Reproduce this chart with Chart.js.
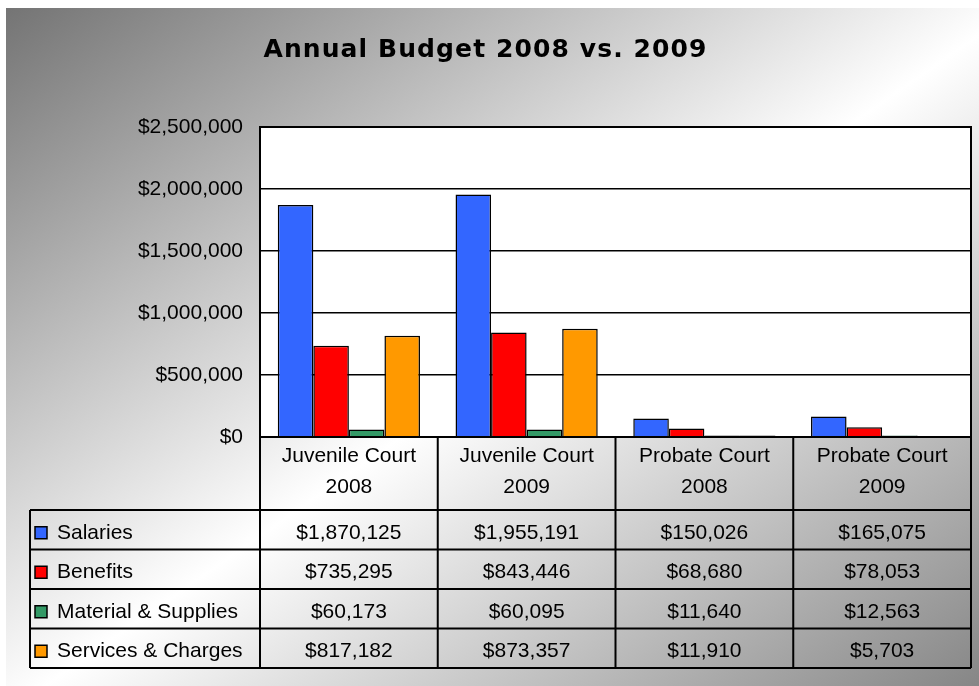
<!DOCTYPE html>
<html>
<head>
<meta charset="utf-8">
<title>Annual Budget 2008 vs. 2009</title>
<script src="https://cdn.jsdelivr.net/npm/chart.js@4.4.1/dist/chart.umd.min.js"></script>
<style>
  html, body { margin: 0; padding: 0; background: #fff; }
  #wrap { position: relative; width: 979px; height: 686px; }
  #bg {
    position: absolute; left: 6px; top: 8px; right: 0; bottom: 0;
    background: linear-gradient(to bottom right, #747474 0%, #ffffff 52%, #868686 100%);
  }
  #budgetChart { position: absolute; left: 0; top: 0; }
</style>
</head>
<body>
<div id="wrap">
  <div id="bg"></div>
  <canvas id="budgetChart" width="979" height="686"></canvas>
</div>
<script>
// chart data
const categories = [
  ['Juvenile Court', '2008'],
  ['Juvenile Court', '2009'],
  ['Probate Court', '2008'],
  ['Probate Court', '2009']
];
const seriesNames = ['Salaries', 'Benefits', 'Material & Supplies', 'Services & Charges'];
const salaries = [1870125, 1955191, 150026, 165075];
const benefits = [735295, 843446, 68680, 78053];
const materials = [60173, 60095, 11640, 12563];
const services = [817182, 873357, 11910, 5703];
const seriesColors = ['#3366FF', '#FF0000', '#339966', '#FF9900'];
const yTicks = [0, 500000, 1000000, 1500000, 2000000, 2500000];

const FONT = '"Liberation Sans", Arial, sans-serif';
const TABLE_LEFT = 30;     // left edge of the legend column
const HEADER_BOTTOM = 510; // bottom of the category header row
const ROW_H = 39.5;

const money = v => '$' + Number(v).toLocaleString('en-US');

// white plot area + letter spacing for the title only
const plotBackground = {
  id: 'plotBackground',
  beforeDraw(chart) {
    const { ctx, chartArea: a } = chart;
    ctx.save();
    ctx.fillStyle = '#fff';
    ctx.fillRect(a.left, a.top, a.right - a.left, a.bottom - a.top);
    ctx.restore();
    ctx.letterSpacing = '1.1px';
  },
  beforeDatasetsDraw(chart) {
    chart.ctx.letterSpacing = '0px';
  }
};

// data table under the x axis (header cells come from the x tick labels)
const dataTable = {
  id: 'dataTable',
  afterDraw(chart) {
    const { ctx, chartArea: a } = chart;
    const x = chart.scales.x;
    const rows = chart.data.datasets;
    const half = (x.getPixelForValue(1) - x.getPixelForValue(0)) / 2;
    const edges = [a.left];
    categories.forEach((c, i) => edges.push(x.getPixelForValue(i) + half));
    const bottom = HEADER_BOTTOM + ROW_H * rows.length;

    ctx.save();
    ctx.strokeStyle = '#000';
    ctx.lineWidth = 2;
    ctx.strokeRect(a.left, a.top, a.right - a.left, a.bottom - a.top);

    ctx.beginPath();
    for (let r = 0; r <= rows.length; r++) {
      const y = HEADER_BOTTOM + r * ROW_H;
      ctx.moveTo(TABLE_LEFT, y);
      ctx.lineTo(a.right, y);
    }
    ctx.moveTo(TABLE_LEFT, HEADER_BOTTOM);
    ctx.lineTo(TABLE_LEFT, bottom);
    edges.forEach(ex => {
      ctx.moveTo(ex, a.bottom);
      ctx.lineTo(ex, bottom);
    });
    ctx.stroke();

    ctx.font = '21px ' + FONT;
    ctx.textBaseline = 'middle';
    rows.forEach((ds, r) => {
      const cy = HEADER_BOTTOM + r * ROW_H + ROW_H / 2 + 3;
      ctx.fillStyle = ds.backgroundColor;
      ctx.fillRect(TABLE_LEFT + 5, cy - 6, 12, 12);
      ctx.lineWidth = 1.5;
      ctx.strokeRect(TABLE_LEFT + 5, cy - 6, 12, 12);

      ctx.fillStyle = '#000';
      ctx.textAlign = 'left';
      ctx.fillText(ds.label, TABLE_LEFT + 27, cy);
      ctx.textAlign = 'center';
      ds.data.forEach((v, i) => ctx.fillText(money(v), x.getPixelForValue(i), cy));
    });
    ctx.restore();
  }
};

const seriesValues = [salaries, benefits, materials, services];

new Chart(document.getElementById('budgetChart').getContext('2d'), {
  type: 'bar',
  data: {
    labels: categories,
    datasets: seriesNames.map((name, i) => ({
      label: name,
      data: seriesValues[i],
      backgroundColor: seriesColors[i],
      borderColor: '#000',
      borderWidth: 1.5,
      categoryPercentage: 0.8,
      barPercentage: 1.0
    }))
  },
  options: {
    responsive: false,
    animation: false,
    layout: { padding: { left: 0, right: 8, top: 0, bottom: 176 } },
    plugins: {
      legend: { display: false },
      tooltip: { enabled: false },
      title: {
        display: true,
        text: 'Annual Budget 2008 vs. 2009',
        color: '#000',
        font: { family: '"DejaVu Sans", sans-serif', size: 25, weight: 'bold', lineHeight: 1.2 },
        padding: { top: 35, bottom: 62 }
      }
    },
    scales: {
      x: {
        grid: { display: false, drawTicks: false },
        border: { display: true, color: '#000', width: 2 },
        ticks: {
          z: 1,
          color: '#000',
          padding: 4,
          maxRotation: 0,
          autoSkip: false,
          font: { family: FONT, size: 21, lineHeight: 1.48 }
        },
        afterFit(scale) { scale.height = 73; }
      },
      y: {
        min: 0,
        max: 2500000,
        grid: { color: '#000', lineWidth: 1.5, drawTicks: false },
        border: { display: true, color: '#000', width: 2 },
        ticks: {
          z: 1,
          color: '#000',
          padding: 17,
          font: { family: FONT, size: 21 },
          callback: v => money(v)
        },
        afterBuildTicks(scale) { scale.ticks = yTicks.map(v => ({ value: v })); },
        afterFit(scale) { scale.width = 260; }
      }
    }
  },
  plugins: [plotBackground, dataTable]
});
</script>
</body>
</html>
